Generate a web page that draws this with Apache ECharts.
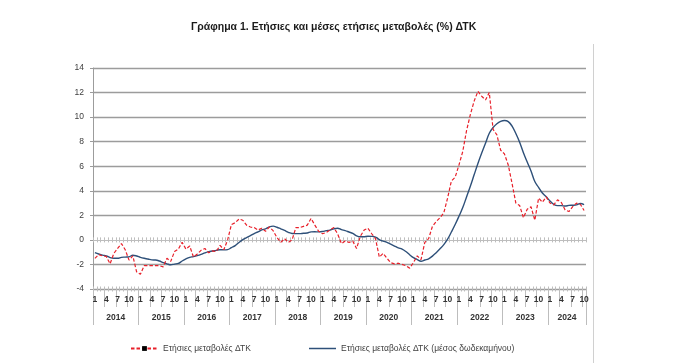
<!DOCTYPE html>
<html><head><meta charset="utf-8">
<script src="https://cdn.jsdelivr.net/npm/echarts@6/dist/echarts.min.js"></script>
<style>html,body{margin:0;padding:0;background:#fff}#c{width:682px;height:363px}</style>
</head><body><div id="c"></div>
<script>
const years = ['2014','2015','2016','2017','2018','2019','2020','2021','2022','2023','2024'];
const monthsInLastYear = 10;
const yTicks = [-4,-2,0,2,4,6,8,10,12,14];

// Ετήσιες μεταβολές ΔΤΚ (%), Jan 2014 – Oct 2024
const annualChange = [
  -1.5, -1.2, -1.3, -1.35, -1.95, -1.1, -0.7, -0.3, -0.8, -1.65, -1.3, -2.6,
  -2.8, -2.1, -2.1, -2.1, -2.1, -2.1, -2.2, -1.5, -1.75, -0.95, -0.75, -0.2,
  -0.75, -0.5, -1.4, -1.15, -0.85, -0.7, -1.05, -0.9, -0.95, -0.45, -0.8, 0.0,
  1.25, 1.4, 1.7, 1.6, 1.2, 1.05, 1.0, 0.8, 0.95, 0.7, 1.05, 0.75,
  0.2, -0.2, 0.1, -0.2, 0.0, 1.0, 1.0, 1.1, 1.2, 1.75, 1.2, 0.7,
  0.5, 0.6, 0.8, 1.0, 0.5, -0.3, -0.1, -0.2, -0.1, -0.7, 0.3, 0.8,
  0.95, 0.5, 0.1, -1.4, -1.1, -1.5, -1.85, -1.95, -1.9, -2.0, -2.1, -2.3,
  -1.85, -1.3, -1.6, -0.2, 0.1, 1.1, 1.5, 1.8, 2.2, 3.4, 4.8, 5.1,
  6.1, 7.2, 8.9, 10.2, 11.3, 12.1, 11.7, 11.4, 12.0, 9.0, 8.55, 7.3,
  7.0, 6.1, 4.6, 3.0, 2.8, 1.8, 2.5, 2.7, 1.6, 3.4, 3.07, 3.5,
  3.0, 2.85, 3.26, 3.04, 2.44, 2.31, 2.71, 2.99, 2.9, 2.39
];
// Ετήσιες μεταβολές ΔΤΚ (μέσος δωδεκαμήνου)
const avgChange = [
  -1.04, -1.15, -1.24, -1.30, -1.44, -1.50, -1.50, -1.42, -1.40, -1.38, -1.25, -1.31,
  -1.42, -1.50, -1.56, -1.63, -1.64, -1.72, -1.85, -1.95, -2.03, -1.97, -1.92, -1.72,
  -1.55, -1.42, -1.36, -1.28, -1.18, -1.06, -0.96, -0.91, -0.85, -0.80, -0.81, -0.79,
  -0.63, -0.47, -0.21, 0.02, 0.19, 0.34, 0.51, 0.65, 0.81, 0.90, 1.06, 1.12,
  1.03, 0.90, 0.77, 0.62, 0.52, 0.51, 0.51, 0.54, 0.56, 0.65, 0.66, 0.65,
  0.68, 0.75, 0.80, 0.90, 0.95, 0.84, 0.75, 0.64, 0.53, 0.33, 0.25, 0.26,
  0.30, 0.29, 0.23, 0.03, -0.10, -0.20, -0.35, -0.50, -0.65, -0.75, -0.95, -1.21,
  -1.45, -1.60, -1.74, -1.64, -1.54, -1.32, -1.04, -0.73, -0.39, 0.06, 0.64, 1.25,
  1.92, 2.63, 3.50, 4.37, 5.30, 6.22, 7.07, 7.87, 8.68, 9.15, 9.46, 9.65,
  9.72, 9.63, 9.27, 8.67, 7.96, 7.10, 6.34, 5.61, 4.75, 4.28, 3.82, 3.51,
  3.17, 2.90, 2.79, 2.79, 2.76, 2.81, 2.82, 2.85, 2.96, 2.87
];
const seriesNames = ['Ετήσιες μεταβολές ΔΤΚ', 'Ετήσιες μεταβολές ΔΤΚ (μέσος δωδεκαμήνου)'];
const titleText = 'Γράφημα 1. Ετήσιες και μέσες ετήσιες μεταβολές (%) ΔΤΚ';

const categories = [];
years.forEach((y, yi) => {
  const n = yi === years.length - 1 ? monthsInLastYear : 12;
  for (let m = 1; m <= n; m++) categories.push(y + '-' + m);
});
const monthOf = idx => Number(categories[idx].split('-')[1]);
const yearOf = idx => categories[idx].split('-')[0];

const FONT = 'Liberation Sans';
const gridCol = '#9c9c9c';
const lightCol = '#bdbdbd';
const blue = '#2e5079';

// layout of the main plot
const G = { left: 93, right: 96, top: 68, bottom: 74 };
const plotH = 363 - G.top - G.bottom;
const zeroY = G.top + plotH * (yTicks[yTicks.length - 1] / (yTicks[yTicks.length - 1] - yTicks[0]));
const TICK = 2.5;

function baseX(extra) {
  return Object.assign({
    type: 'category', data: categories, boundaryGap: true, gridIndex: 0,
    axisLabel: { show: false }, splitLine: { show: false }
  }, extra);
}

const chart = echarts.init(document.getElementById('c'), null, { renderer: 'canvas' });
chart.setOption({
  animation: false,
  backgroundColor: '#ffffff',
  textStyle: { fontFamily: FONT },
  title: {
    text: titleText, left: 186, top: 17,
    textStyle: { fontFamily: FONT, fontSize: 10.5, fontWeight: 'bold', color: '#1a1a1a' }
  },
  grid: [
    { left: G.left, right: G.right, top: G.top, bottom: G.bottom, containLabel: false },
    { left: G.left, right: G.right, top: zeroY - TICK, height: TICK, containLabel: false }
  ],
  legend: [
    { data: [seriesNames[0]], left: 125, top: 339, itemWidth: 27, itemHeight: 6,
      textStyle: { fontFamily: FONT, fontSize: 8.5, color: '#404040' } },
    { data: [{ name: seriesNames[1], icon: 'rect' }], left: 304, top: 339, itemWidth: 27, itemHeight: 1.5,
      itemStyle: { color: blue },
      textStyle: { fontFamily: FONT, fontSize: 8.5, color: '#404040' } }
  ],
  xAxis: [
    baseX({ position: 'bottom', axisLine: { onZero: true, lineStyle: { color: lightCol } },
      axisTick: { show: true, interval: 0, length: TICK, lineStyle: { color: lightCol } } }),
    baseX({ gridIndex: 1, position: 'bottom', axisLine: { show: false, onZero: false },
      axisTick: { show: true, inside: true, interval: 0, length: TICK, lineStyle: { color: lightCol } } }),
    baseX({ position: 'bottom', axisLine: { onZero: false, lineStyle: { color: gridCol } },
      axisTick: { show: true, interval: 0, length: TICK, lineStyle: { color: lightCol } } }),
    baseX({ position: 'bottom', axisLine: { show: false, onZero: false },
      axisTick: { show: true, inside: true, interval: 0, length: TICK, lineStyle: { color: lightCol } } }),
    baseX({ position: 'bottom', axisLine: { show: false, onZero: false },
      axisTick: { show: true, interval: idx => (monthOf(idx) - 1) % 3 === 0, length: 18, lineStyle: { color: lightCol } },
      axisLabel: { show: true, interval: idx => (monthOf(idx) - 1) % 3 === 0,
        formatter: (v, idx) => String(monthOf(idx)), margin: 6,
        fontFamily: FONT, fontSize: 8.5, fontWeight: 'bold', color: '#333' } }),
    baseX({ position: 'bottom', offset: 18, axisLine: { show: false, onZero: false },
      axisTick: { show: true, interval: idx => monthOf(idx) === 1, length: 18, lineStyle: { color: lightCol } },
      axisLabel: { show: true,
        interval: idx => yearOf(idx) === years[years.length - 1] ? monthOf(idx) === 5 : monthOf(idx) === 6,
        formatter: (v, idx) => yearOf(idx), margin: 6, padding: [0, 0, 0, 3.8],
        fontFamily: FONT, fontSize: 8.5, fontWeight: 'bold', color: '#333' } })
  ],
  yAxis: [
    {
      type: 'value', gridIndex: 0, min: yTicks[0], max: yTicks[yTicks.length - 1], interval: 2,
      axisLine: { show: true, lineStyle: { color: gridCol } },
      axisTick: { show: true, length: 3, lineStyle: { color: gridCol } },
      axisLabel: { margin: 9, fontFamily: FONT, fontSize: 8.5, color: '#404040' },
      splitLine: { show: true, lineStyle: { width: 1.3,
        color: yTicks.map(t => t === 0 ? 'rgba(0,0,0,0)' : gridCol) } }
    },
    { type: 'value', gridIndex: 1, show: false, min: 0, max: 1 }
  ],
  series: [
    { name: seriesNames[1], type: 'line', xAxisIndex: 0, yAxisIndex: 0, data: avgChange,
      smooth: 0.4, symbol: 'none', lineStyle: { color: blue, width: 1.4 },
      itemStyle: { color: blue }, z: 2 },
    { name: seriesNames[0], type: 'line', xAxisIndex: 0, yAxisIndex: 0, data: annualChange,
      symbol: 'rect', symbolSize: 3.5, showSymbol: true,
      lineStyle: { color: '#e8202a', width: 1.2, type: [3.5, 2] },
      itemStyle: { color: '#000000' }, z: 3 }
  ],
  graphic: [
    { type: 'line', shape: { x1: 593.5, y1: 44, x2: 593.5, y2: 363 }, style: { stroke: '#d0d0d0', lineWidth: 1 } }
  ]
});
</script></body></html>
